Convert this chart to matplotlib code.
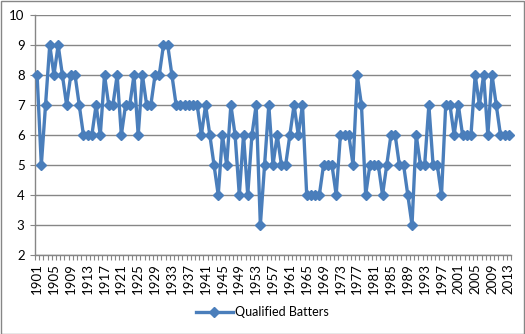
import matplotlib

matplotlib.use("Agg")

import matplotlib.pyplot as plt
import numpy as np
from matplotlib.lines import Line2D
from matplotlib.patches import Rectangle

plt.rcParams["font.family"] = ["Lato", "DejaVu Sans"]

years = list(range(1901, 2014))
qualified_batters = [
    8, 5, 7, 9, 8, 9, 8, 7, 8, 8,  # 1901-1910
    7, 6, 6, 6, 7, 6, 8, 7, 7, 8,  # 1911-1920
    6, 7, 7, 8, 6, 8, 7, 7, 8, 8,  # 1921-1930
    9, 9, 8, 7, 7, 7, 7, 7, 7, 6,  # 1931-1940
    7, 6, 5, 4, 6, 5, 7, 6, 4, 6,  # 1941-1950
    4, 6, 7, 3, 5, 7, 5, 6, 5, 5,  # 1951-1960
    6, 7, 6, 7, 4, 4, 4, 4, 5, 5,  # 1961-1970
    5, 4, 6, 6, 6, 5, 8, 7, 4, 5,  # 1971-1980
    5, 5, 4, 5, 6, 6, 5, 5, 4, 3,  # 1981-1990
    6, 5, 5, 7, 5, 5, 4, 7, 7, 6,  # 1991-2000
    7, 6, 6, 6, 8, 7, 8, 6, 8, 7,  # 2001-2010
    6, 6, 6,                       # 2011-2013
]
y_ticks = list(range(2, 11))
series_name = "Qualified Batters"

blue = "#4a7ebb"
grid_gray = "#868686"

W, H = 525, 334
fig = plt.figure(figsize=(W / 100, H / 100), dpi=100)
ax = fig.add_axes([35 / W, (H - 255) / H, 476 / W, 240 / H])

x = np.arange(len(years))
ax.plot(x, qualified_batters, color=blue, linewidth=2.4, marker="D",
        markersize=5.3, markerfacecolor=blue, markeredgecolor=blue,
        solid_joinstyle="round", clip_on=False, zorder=3)

ax.set_xlim(-0.5, len(years) - 0.5)
ax.set_ylim(2, 10)
ax.set_yticks(y_ticks)
ax.set_yticklabels([str(v) for v in y_ticks])
ax.grid(axis="y", color=grid_gray, linewidth=1.0)
ax.set_axisbelow(True)

label_idx = x[::4]
ax.set_xticks(label_idx)
ax.set_xticklabels([str(years[i]) for i in label_idx], rotation=90)
ax.set_xticks(np.arange(-0.5, len(years), 1), minor=True)
ax.tick_params(axis="x", which="major", length=0, pad=6, labelsize=9.5)
ax.tick_params(axis="x", which="minor", length=3.5, width=0.8, color=grid_gray)
ax.tick_params(axis="y", length=3.5, width=0.8, color=grid_gray, labelsize=9.5, pad=4)

for side in ("top", "right"):
    ax.spines[side].set_visible(False)
for side in ("left", "bottom"):
    ax.spines[side].set_color(grid_gray)
    ax.spines[side].set_linewidth(1.0)

handle = Line2D([], [], color=blue, linewidth=2.4, marker="D", markersize=5.3)
fig.legend([handle], [series_name], loc="center", bbox_to_anchor=(0.5, 22 / H),
           frameon=False, fontsize=9, handlelength=2.9, handletextpad=0.2)

fig.patches.append(Rectangle((0.5 / W, 0.5 / H), 1 - 1.5 / W, 1 - 1.5 / H,
                             transform=fig.transFigure, fill=False,
                             edgecolor=grid_gray, linewidth=1.0))

fig.savefig("out.png", dpi=100)
plt.close(fig)
